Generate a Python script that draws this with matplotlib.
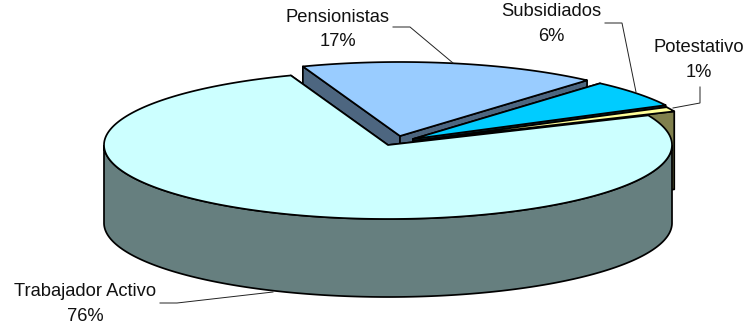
import numpy as np
import matplotlib
matplotlib.use("Agg")
import matplotlib.pyplot as plt
from matplotlib.patches import Polygon

plt.rcParams["font.family"] = ["Liberation Sans", "DejaVu Sans"]

# Slices clockwise from the start angle
categories = ["Pensionistas", "Subsidiados", "Potestativo", "Trabajador Activo"]
percents = [17, 6, 1, 76]

top_colors = ["#99ccff", "#00ccff", "#ffff99", "#ccffff"]
side_colors = ["#4d6680", "#006680", "#80804d", "#667f7f"]

# Pie geometry in pixels
CX, CY = 388.0, 145.0
RX, RY = 284.0, 74.0
DEPTH = 78.0
START = 110.0
offsets = [(12, -9), (25, -6), (26, -4), (0, 0)]

label_pos = [(338, 29.5), (551, 24), (699, 60), (85, 304)]
leaders = [
    [(393, 27), (410, 27), (453, 63)],
    [(605, 23), (622, 23), (636, 92)],
    [(700, 87), (700, 103), (673, 108)],
    [(160, 303), (177, 303), (273, 292)],
]

LW = 1.25


def rim(cx, cy, a0, a1, n=300):
    t = np.radians(np.linspace(a0, a1, n))
    return np.column_stack([cx + RX * np.cos(t), cy - RY * np.sin(t)])


def draw_slice(ax, a0, a1, dx, dy, top, side):
    """Extruded slice from a0 down to a1 degrees, clockwise."""
    cx, cy = CX + dx, CY + dy
    apex = np.array([cx, cy])
    down = np.array([0, DEPTH])
    p0 = rim(cx, cy, a0, a0, 1)[0]
    p1 = rim(cx, cy, a1, a1, 1)[0]

    for p in (p0, p1):
        ax.add_patch(Polygon([apex, p, p + down, apex + down], fc=side, ec="black", lw=LW, joinstyle="round"))

    # outer wall, only the part that faces the viewer (lower half of the ellipse)
    lo = max(a1, -180.0)
    hi = min(a0, 0.0)
    if hi > lo:
        curve = rim(cx, cy, lo, hi)
        wall = np.vstack([curve, (curve + down)[::-1]])
        ax.add_patch(Polygon(wall, fc=side, ec="black", lw=LW))

    face = np.vstack([[apex], rim(cx, cy, a0, a1)])
    ax.add_patch(Polygon(face, fc=top, ec="black", lw=LW, joinstyle="round"))


fig = plt.figure(figsize=(7.48, 3.24), dpi=100)
ax = fig.add_axes([0, 0, 1, 1])
ax.set_xlim(0, 748)
ax.set_ylim(324, 0)
ax.axis("off")

spans = np.array(percents) * 3.6
ends = START - np.cumsum(spans)
starts = ends + spans

# Painted back to front, the big slice last
for i in range(len(categories)):
    draw_slice(ax, starts[i], ends[i], offsets[i][0], offsets[i][1], top_colors[i], side_colors[i])

for pts in leaders:
    xs, ys = zip(*pts)
    ax.plot(xs, ys, color="#222222", lw=0.7, solid_joinstyle="miter")

for name, pct, (x, y) in zip(categories, percents, label_pos):
    ax.text(x, y, f"{name}\n{pct}%", ha="center", va="center", fontsize=13.2,
            color="#111111", linespacing=1.55)

fig.savefig("out.png", dpi=100)
